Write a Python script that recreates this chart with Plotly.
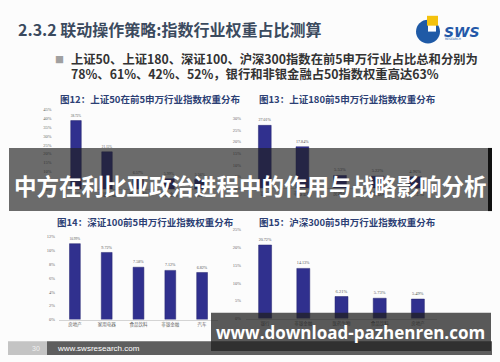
import plotly.graph_objects as go

W, H = 500, 362

cats12 = ["银行", "非银金融", "食品饮料", "有色金属", "采掘"]
vals12 = [38.73, 21.15, 6.57, 5.99, 5.56]
cats13 = ["银行", "非银金融", "房地产", "食品饮料", "医药生物"]
vals13 = [27.01, 17.84, 5.53, 5.22, 4.96]
cats14 = ["房地产", "家用电器", "食品饮料", "非银金融", "汽车"]
vals14 = [10.99, 9.72, 7.58, 7.12, 6.82]
cats15 = ["银行", "非银金融", "医药生物", "食品饮料", "房地产"]
vals15 = [20.72, 14.13, 6.21, 5.73, 5.49]

titles = ["图12：上证50在前5申万行业指数权重分布", "图13：上证180前5申万行业指数权重分布",
          "图14：深证100前5申万行业指数权重分布", "图15：沪深300前5申万行业指数权重分布"]


def px(x):
    return x / W


def py(y):
    return 1 - y / H


CJK = "Noto Sans CJK SC"
BAR = "#30308e"

fig = go.Figure()

panels = [
    (cats12, vals12, (60.5, 215.5), (109, 190), 45, 5, 8),
    (cats13, vals13, (246, 434), (118, 189), 30, 5, 4),
    (cats14, vals14, (59, 218), (238, 322), 12, 2, 3),
    (cats15, vals15, (246, 437), (231, 321), 25, 5, 4),
]

for i, (cats, vals, (x0, x1), (ytop, ybot), ymax, dt, so) in enumerate(panels, start=1):
    fig.add_trace(go.Bar(
        x=cats, y=vals, width=0.34,
        marker=dict(color=BAR, line=dict(color="#24246e", width=0.5)),
        text=vals, texttemplate="%{y:.2f}%", textposition="outside",
        textfont=dict(size=4.5, color="#555555", family="Liberation Serif"),
        cliponaxis=False, showlegend=False,
        xaxis="x" if i == 1 else f"x{i}", yaxis="y" if i == 1 else f"y{i}",
    ))
    xa = dict(domain=[px(x0), px(x1)], anchor="y" if i == 1 else f"y{i}",
              type="category", range=[-0.5, 4.5], showline=True, linecolor="#d4d4d4",
              linewidth=1, showgrid=False, ticks="", fixedrange=True,
              tickfont=dict(size=4.5, color="#666666", family=CJK))
    ya = dict(domain=[py(ybot), py(ytop)], anchor="x" if i == 1 else f"x{i}",
              range=[0, ymax], dtick=dt, ticksuffix="%", showgrid=False, zeroline=False,
              showline=False, ticks="", ticklabelstandoff=so,
              tickfont=dict(size=4.5, color="#666666", family="Liberation Serif"))
    key = "" if i == 1 else str(i)
    fig.layout["xaxis" + key] = xa
    fig.layout["yaxis" + key] = ya

ann = []
# panel titles
title_pos = [(58, 98), (257, 98), (55, 223), (257, 223)]
for t, (tx, ty) in zip(titles, title_pos):
    ann.append(dict(text="<b>" + t + "</b>", x=px(tx), y=py(ty), xref="paper", yref="paper",
                    xanchor="left", yanchor="middle", showarrow=False,
                    font=dict(size=9.5, color="#2c3f74", family=CJK)))

# header
ann.append(dict(text="<b>2.3.2 联动操作策略:指数行业权重占比测算</b>", x=px(16), y=py(27), xref="paper", yref="paper",
                xanchor="left", yanchor="middle", showarrow=False,
                font=dict(size=16, color="#3b4a5e", family=CJK)))
ann.append(dict(text="■", x=px(53), y=py(58), xref="paper", yref="paper",
                xanchor="left", yanchor="middle", showarrow=False,
                font=dict(size=9, color="#a0a0a0", family=CJK)))
ann.append(dict(text="<b>上证50、上证180、深证100、沪深300指数在前5申万行业占比总和分别为</b>",
                x=px(69), y=py(58), xref="paper", yref="paper",
                xanchor="left", yanchor="middle", showarrow=False,
                font=dict(size=12.3, color="#333333", family=CJK)))
ann.append(dict(text="<b>78%、61%、42%、52%，银行和非银金融占50指数权重高达63%</b>",
                x=px(69), y=py(73), xref="paper", yref="paper",
                xanchor="left", yanchor="middle", showarrow=False,
                font=dict(size=12.3, color="#333333", family=CJK)))

# logo text
ann.append(dict(text="<b><i>SWS</i></b>", x=px(442), y=py(30), xref="paper", yref="paper",
                xanchor="left", yanchor="middle", showarrow=False,
                font=dict(size=14, color="#2358a8", family="DejaVu Sans")))
ann.append(dict(text="RESEARCH", x=px(443), y=py(38), xref="paper", yref="paper",
                xanchor="left", yanchor="middle", showarrow=False,
                font=dict(size=3, color="#2358a8", family="DejaVu Sans")))

# banner text
ann.append(dict(text="<b>中方在利比亚政治进程中的作用与战略影响分析</b>", x=px(250), y=py(186),
                xref="paper", yref="paper", xanchor="center", yanchor="middle", showarrow=False,
                font=dict(size=22.5, color="#ffffff", family=CJK)))
# watermark text
ann.append(dict(text="<b>www.download-pazhenren.com</b>", x=px(350), y=py(335),
                xref="paper", yref="paper", xanchor="center", yanchor="middle", showarrow=False,
                font=dict(size=17, color="#ffffff", family="Open Sans")))
# footer text
ann.append(dict(text="www.swsresearch.com", x=px(55), y=py(351),
                xref="paper", yref="paper", xanchor="left", yanchor="middle", showarrow=False,
                font=dict(size=8, color="#ffffff", family="Liberation Sans")))
ann.append(dict(text="30", x=px(36), y=py(351),
                xref="paper", yref="paper", xanchor="center", yanchor="middle", showarrow=False,
                font=dict(size=7, color="#f0f0f0", family="Liberation Sans")))


def rect(x0, y0, x1, y1, color, layer="above"):
    return dict(type="rect", xref="paper", yref="paper", x0=px(x0), x1=px(x1), y0=py(y1), y1=py(y0),
                fillcolor=color, line=dict(width=0), layer=layer)


shapes = [
    # logo
    dict(type="circle", xref="paper", yref="paper", x0=px(416), x1=px(440), y0=py(42), y1=py(18),
         fillcolor="#1f5aa6", line=dict(width=0), layer="above"),
    rect(428, 22, 436, 30, "#ffffff"),
    rect(427, 14, 438, 24, "#f4c20d"),
    # banner overlay
    rect(9, 148, 489, 212, "rgba(32,32,32,0.66)"),
    rect(488, 148, 492, 212, "#111111"),
    # footer
    rect(8, 344, 47, 358, "#c4c4c4"),
    rect(47, 344, 492, 358, "#5e5e5e"),
    # watermark box
    rect(211, 315, 491, 354, "rgba(32,32,32,0.74)"),
]

fig.update_layout(
    width=W, height=H, margin=dict(l=0, r=0, t=0, b=0),
    paper_bgcolor="#fcfcfc", plot_bgcolor="rgba(0,0,0,0)",
    annotations=ann, shapes=shapes, bargap=0.5,
)

fig.write_html("out.html")
